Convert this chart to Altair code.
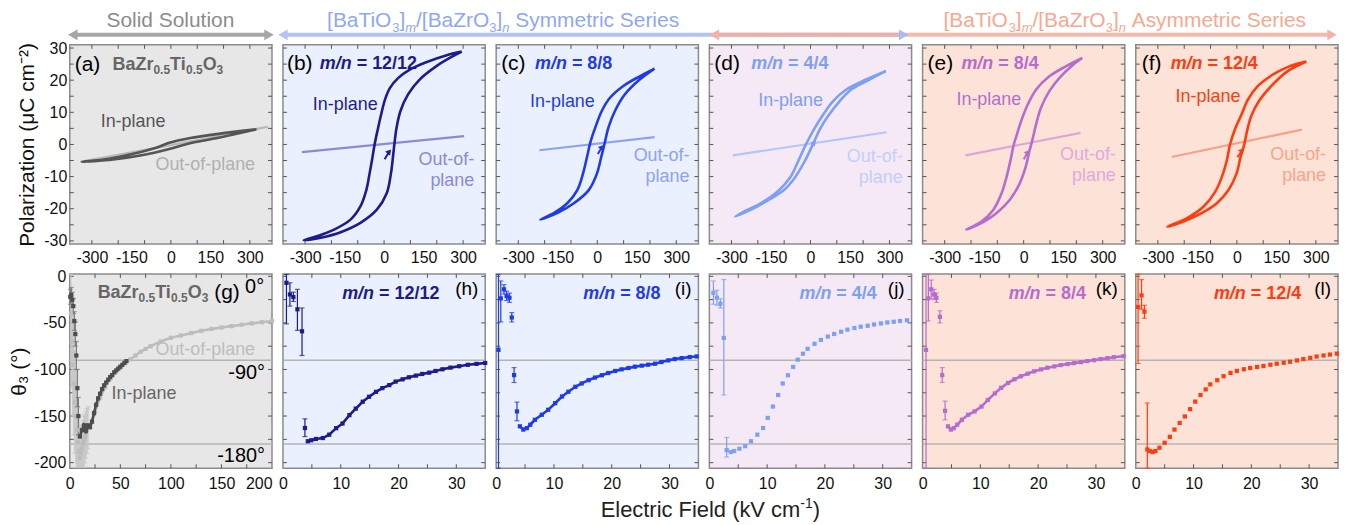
import altair as alt
import pandas as pd

FONT = "Liberation Sans"
W = 203
HT = 200
HB = 195

# ---------------- top row: hysteresis loops (E kV/cm, P uC/cm2) ----------------
# descending branch (+Emax -> -Emax) followed by ascending branch (-Emax -> +Emax)
a_loop_E = [325, 181, 69, -6, -56, -156, -256, -337, -219, -106, -6, 69, 181, 325]
a_loop_P = [4.7, 3.3, 1.9, 0.5, -1.0, -3.1, -4.7, -5.4, -4.7, -3.3, -1.4, 0.3, 2.1, 4.7]
a_oop_E = [-344, 0, 369]
a_oop_P = [-5.4, -0.2, 5.5]

b_loop_E = [295, 235, 160, 97.5, 54, 22.5, 4, -11, -25, -36, -46, -55, -67.5, -90, -127.5, -190, -252.5, -305,
            -240, -165, -90, -27.5, 10, 26, 35, 39, 47.5, 62.5, 91, 135, 197.5, 260, 295]
b_loop_P = [28.9, 27.7, 25.6, 23.3, 20.7, 17.6, 14.1, 9.4, 4.3, 0, -4.9, -9.0, -14.2, -19.3, -23.4, -26.5, -28.5, -29.8,
            -29.0, -27.3, -24.4, -20.3, -15.2, -9.0, -2.9, 0, 5.3, 10.5, 15.6, 20.2, 24.3, 27.4, 28.9]
b_oop_E = [-312, 304]
b_oop_P = [-2.4, 2.6]

c_loop_E = [217.5, 161, 99, 49, 17.5, -7.5, -26, -39, -54, -76, -114, -164, -216,
            -151, -89, -32.5, -1, 15, 27.5, 42.5, 67.5, 105, 161, 217.5]
c_loop_P = [23.6, 21.2, 18.2, 14.6, 10.5, 5.3, 0.7, -3.9, -9.0, -14.2, -18.3, -21.3, -23.4,
            -21.3, -18.3, -14.2, -9.0, -3.9, 0.2, 5.3, 10.5, 15.6, 20.2, 23.6]
c_oop_E = [-220, 217.5]
c_oop_P = [-1.8, 2.3]

d_loop_E = [286, 211, 136, 86, 49, 17.5, -17.5, -45, -76, -126, -189, -251, -286,
            -226, -157, -101, -57.5, -20, 9, 36, 67.5, 111, 155, 224, 286]
d_loop_P = [22.8, 20.2, 17.1, 13.5, 9.4, 5.3, 0, -4.9, -10.1, -14.7, -18.3, -20.8, -22.4,
            -20.3, -17.2, -14.2, -10.1, -4.9, 0, 4.8, 8.9, 13.5, 17.1, 20.2, 22.8]
d_oop_E = [-295, 289]
d_oop_P = [-3.4, 3.8]

e_loop_E = [222.5, 160, 97.5, 47.5, 16, -9, -25, -37.5, -50, -65, -84, -115, -159, -217.5,
            -159, -102.5, -52.5, -15, 7.5, 22.5, 32.5, 47.5, 66, 97.5, 141, 185, 222.5]
e_loop_P = [26.9, 24.3, 21.2, 17.1, 12.5, 7.4, 3.3, 0, -4.9, -10.1, -15.2, -20.3, -23.9, -26.5,
            -24.4, -21.3, -17.2, -12.1, -7.0, -1.8, 1.2, 6.4, 11.5, 16.6, 21.2, 24.6, 26.9]
e_oop_E = [-221, 216]
e_oop_P = [-3.4, 3.6]

f_loop_E = [264, 199, 136, 80, 43, 18, -7, -26, -38, -57, -82, -126, -189, -264,
            -201, -132, -76, -32, -1, 14, 28, 39, 55, 84, 131, 193, 264]
f_loop_P = [25.8, 24.3, 21.7, 18.2, 14.1, 9.4, 4.8, 0, -4.9, -10.1, -14.7, -19.3, -22.9, -25.6,
            -23.9, -21.3, -18.3, -14.2, -9.0, -3.9, 0, 4.3, 8.9, 13.5, 18.2, 22.8, 25.8]
f_oop_E = [-248, 247]
f_oop_P = [-3.9, 4.6]

# small poling arrows (start E, start P, end E, end P)
b_arrow = [2, -4.6, 20, -2.2]
c_arrow = [2, -3.0, 18, -0.8]
d_arrow = [0, -1.4, 14, 0.6]
e_arrow = [0, -4.6, 16, -2.4]
f_arrow = [2, -4.0, 20, -1.8]

# ---------------- bottom row: theta3 vs field ----------------
g_in_pts_E = [0.5, 1.5, 2.5, 3.5, 4.5, 5.5, 6.5, 7.5, 8.5]
g_in_pts_T = [-22, -20, -25, -32, -48, -62, -85, -120, -150]
g_in_err_lo = [-30, -28, -33, -40, -58, -75, -100, -140, -170]
g_in_err_hi = [-14, -12, -17, -24, -38, -49, -70, -100, -130]
g_in_E = [10, 12, 14, 16, 18, 20, 22, 24, 26, 28, 30, 32, 34, 36, 38, 40, 42, 44, 46, 48, 50, 52, 54, 56]
g_in_T = [-172, -165, -160, -166, -160, -162, -156, -147, -138, -131, -126, -121, -117, -114, -111, -108,
          -106, -103, -101, -99, -97, -95, -93, -91]
g_out_pts_E = [1, 2, 3, 4, 5, 6, 7, 8, 9, 10, 11, 12, 13, 14, 15, 16, 17, 18]
g_out_pts_T = [-40, -70, -95, -115, -135, -150, -165, -178, -188, -195, -190, -185, -180, -176, -172, -168, -165, -162]
g_out_err_lo = [-90, -120, -150, -170, -190, -200, -205, -205, -205, -205, -205, -205, -205, -205, -200, -195, -190, -185]
g_out_err_hi = [2, -20, -40, -60, -80, -100, -120, -140, -150, -160, -165, -160, -155, -150, -148, -145, -142, -140]
g_out_E = [20, 25, 30, 35, 40, 45, 50, 55, 60, 65, 70, 75, 80, 90, 100, 110, 120, 130, 140, 150, 160, 170, 180, 190, 200]
g_out_T = [-160, -145, -130, -119, -110, -103, -98, -93, -89, -85, -81, -78, -75, -70, -66, -63.5, -61, -58.5,
           -56.5, -55, -53.5, -52, -50.5, -49.3, -48]

h_pts_E = [0.6, 1.2, 1.8, 2.5, 3.3, 3.8]
h_pts_T = [-7, -19.5, -22.3, -35.4, -59, -162.8]
h_err_lo = [-51, -32, -27, -58, -85, -172]
h_err_hi = [2, -7, -17, -14, -34, -153]
h_E = [4.3, 4.9, 5.7, 6.9, 8.0, 9.2, 10.3, 11.5, 12.6, 13.8, 14.9, 16.1, 17.2, 18.4, 19.5, 20.7, 21.8, 23.0,
       24.1, 25.3, 26.4, 27.6, 29.0, 30.5, 32.0, 33.5, 35.0]
h_T = [-177, -176, -174.6, -173.6, -170, -163, -158, -149, -142, -134.6, -129.3, -124, -120, -116.8, -113, -110.6,
       -108.4, -106.6, -104.8, -103.4, -101.6, -99.8, -98, -96.5, -95, -94, -93]

i_pts_E = [0.4, 0.8, 1.35, 1.8, 2.3, 2.7, 3.1, 3.6]
i_pts_T = [-78.9, -23.7, -14, -21.2, -23, -44.2, -106, -145]
i_err_lo = [-206, -49, -19, -26, -28, -49, -114, -155]
i_err_hi = [2, -5, -9, -16, -18, -39, -98, -135]
i_E = [4.1, 4.7, 5.3, 5.9, 6.7, 7.9, 9.0, 10.2, 11.4, 12.5, 13.7, 14.8, 16.0, 17.1, 18.3, 19.4, 20.6, 21.7,
       22.9, 24.0, 25.2, 26.3, 27.5, 28.6, 29.8, 30.9, 32.1, 33.5, 34.7]
i_T = [-161, -164.5, -163, -159.3, -154, -148.6, -143.3, -136.2, -129, -123.9, -118.6, -115, -111.5, -108.7,
       -106.2, -103.8, -101.6, -99.9, -98.4, -97, -95.9, -94.9, -93.8, -92, -90.2, -88.8, -87.8, -86.7, -86]

j_pts_E = [0.7, 1.3, 1.9, 2.5]
j_pts_T = [-17.7, -23, -29.4, -66.2]
j_err_E = [0.7, 1.3, 1.9, 2.5, 3.0]
j_err_lo = [-30, -31, -34, -127.4, -194]
j_err_hi = [-5, -15, -24, -3.5, -173]
j_E = [3.0, 3.7, 4.3, 5.2, 6.2, 7.2, 8.3, 9.3, 10.1, 11.0, 11.9, 12.7, 13.6, 14.5, 15.3, 16.2, 17.0, 18.2,
       19.3, 20.5, 21.6, 22.8, 23.9, 25.1, 26.2, 27.4, 28.5, 29.7, 30.8, 31.9, 33.0, 34.2]
j_T = [-186.5, -188.6, -187.5, -185, -182.3, -177, -170, -162.8, -152, -139.8, -127.4, -115, -106.2, -97.3,
       -89.5, -83.1, -77.8, -72.5, -68.3, -64.7, -61.9, -59.5, -57.3, -55.5, -54.1, -53.1, -51.7, -50.6,
       -49.5, -48.8, -48, -47.2]

k_pts_E = [0.6, 1.0, 1.5, 2.0, 2.4, 3.0, 3.4, 3.9]
k_pts_T = [-79, -23.7, -14, -19.5, -23, -43.5, -106, -144.4]
k_err_lo = [-206, -48, -24, -25, -28, -50, -114, -154]
k_err_hi = [2, 2, -4, -14, -18, -37, -98, -134]
k_E = [4.4, 4.9, 5.4, 6.0, 6.8, 7.9, 9.0, 10.2, 11.3, 12.5, 13.6, 14.8, 15.9, 17.0, 18.2, 19.3, 20.5, 21.6,
       22.8, 23.9, 25.1, 26.2, 27.4, 28.5, 29.7, 30.8, 32.0, 33.1, 34.8]
k_T = [-161, -164.5, -163, -159.3, -154, -148.6, -145, -139.8, -132.7, -125.7, -119.7, -114.4, -110.5, -107.3,
       -104.5, -102, -99.9, -98.1, -96.7, -95.3, -94.2, -93.2, -92.1, -91, -90, -88.9, -87.9, -86.8, -85.7]

l_pts_E = [0.4, 1.0, 1.5]
l_pts_T = [-32.9, -20.5, -37.9]
l_err_E = [0.4, 1.0, 1.5, 2.0]
l_err_lo = [-93.6, -35.4, -45, -206]
l_err_hi = [2, -3.5, -31, -136]
l_E = [2.0, 2.4, 2.9, 3.4, 4.1, 5.0, 5.9, 6.7, 7.6, 8.5, 9.4, 10.3, 11.2, 12.1, 12.9, 14.1, 15.2, 16.4, 17.5,
       18.7, 19.8, 21.0, 22.1, 23.3, 24.4, 25.6, 26.7, 27.9, 29.0, 30.2, 31.3, 32.5, 33.6, 34.8]
l_T = [-185.8, -187.5, -188.6, -187.5, -184, -178.7, -172.3, -164.5, -157.4, -150.4, -142.6, -134.5, -127.4,
       -121.4, -116, -111.5, -107.2, -103.7, -101.6, -99.8, -98.4, -97.3, -96.3, -94.9, -93.8, -92.8, -91.7,
       -90.3, -88.9, -87.5, -86.1, -85, -84, -83]

# axes ticks / labels
TOP_XLAB = [-300, -150, 0, 150, 300]
TOP_XTICK = [-300, -200, -100, 0, 100, 200, 300]
TOP_YLAB = [-30, -20, -10, 0, 10, 20, 30]
TOP_YTICK = [-30, -25, -20, -15, -10, -5, 0, 5, 10, 15, 20, 25, 30]
BOT_YLAB = [0, -50, -100, -150, -200]
BOT_YTICK = [0, -25, -50, -75, -100, -125, -150, -175, -200]
G_XLAB = [0, 50, 100, 150, 200]
G_XTICK = [25, 50, 75, 100, 125, 150, 175]
F_XLAB = [0, 10, 20, 30]
F_XTICK = [5, 10, 15, 20, 25, 30]
REF_LINES = [-90, -180]

# colours
NAVY, BLUE, LBLUE, PURP, RED = "#1c1c8c", "#1f3be6", "#7da0f2", "#b56ccf", "#ff3c10"
DGRAY, LGRAY = "#555555", "#b8b8b8"
BG_G, BG_B, BG_L, BG_P = "#e7e7e7", "#eaf0fd", "#f5e9f6", "#fde3d7"

REG = {' ': 278, '(': 333, ')': 333, '[': 278, ']': 278, '/': 278, '.': 278, '-': 333, '=': 584,
       '°': 400, 'A': 667, 'B': 667, 'C': 722, 'E': 667, 'F': 611, 'O': 778, 'S': 667, 'T': 611, 'V': 667,
       'Z': 611, 'a': 556, 'b': 556, 'c': 500, 'd': 556, 'e': 556, 'f': 278, 'g': 556, 'h': 556, 'i': 222,
       'j': 222, 'k': 500, 'l': 222, 'm': 833, 'n': 556, 'o': 556, 'p': 556, 'r': 333, 's': 500, 't': 278,
       'u': 556, 'y': 500}
BOLD = {' ': 278, '(': 333, ')': 333, '/': 278, '.': 278, '=': 584, 'B': 722, 'O': 778, 'T': 611,
        'Z': 611, 'a': 556, 'i': 278, 'm': 889, 'n': 611, 'r': 389}

LABEL_EXPR = "'' + datum.value"


def tw(s, size, weight):
    table = BOLD if weight == "bold" else REG
    return sum(table.get(ch, 556) for ch in s) * size / 1000.0


def one():
    return alt.Data(values=[{}])


def txt(s, x, y, size=18, color="black", align="left", baseline="alphabetic", weight="normal", style="normal"):
    return alt.Chart(one()).mark_text(text=s, font=FONT, fontSize=size, color=color, align=align,
                                      baseline=baseline, fontWeight=weight, fontStyle=style).encode(
        x=alt.value(x), y=alt.value(y))


def rich(segs, x, y, align="left", color="black"):
    widths = [tw(t, s, w) for t, s, w, st, dy in segs]
    total = sum(widths)
    if align == "right":
        x0 = x - total
    elif align == "center":
        x0 = x - total / 2
    else:
        x0 = x
    out = []
    for (t, s, w, st, dy), wd in zip(segs, widths):
        core = t.lstrip(" ")
        lead = tw(t[:len(t) - len(core)], s, w)
        out.append(txt(core, x0 + lead, y + dy, s, color, "left", "alphabetic", w, st))
        x0 += wd
    return out


def formula():
    return [("BaZr", 18, "bold", "normal", 0), ("0.5", 12, "bold", "normal", 4), ("Ti", 18, "bold", "normal", 0),
            ("0.5", 12, "bold", "normal", 4), ("O", 18, "bold", "normal", 0), ("3", 12, "bold", "normal", 4)]


def mn(ratio):
    return [("m/n", 18, "bold", "italic", 0), (" = " + ratio, 18, "bold", "normal", 0)]


def header(word):
    return [("[BaTiO", 21, "normal", "normal", 0), ("3", 13, "normal", "normal", 5), ("]", 21, "normal", "normal", 0),
            ("m", 13, "normal", "italic", 5), ("/[BaZrO", 21, "normal", "normal", 0),
            ("3", 13, "normal", "normal", 5), ("]", 21, "normal", "normal", 0), ("n", 13, "normal", "italic", 5),
            (" " + word + " Series", 21, "normal", "normal", 0)]


def hrule(x1, x2, y, color, width=4, opacity=1.0):
    return alt.Chart(one()).mark_rule(color=color, strokeWidth=width, opacity=opacity).encode(
        x=alt.value(x1), x2=alt.value(x2), y=alt.value(y))


def head(x, y, color, shape):
    return alt.Chart(one()).mark_point(shape=shape, filled=True, size=120, color=color, opacity=1,
                                       strokeWidth=0).encode(x=alt.value(x), y=alt.value(y))


def tick_layers(X, Y, xf, yf, xt, yt, w, h, L=4):
    dx = pd.DataFrame({xf: xt})
    dy = pd.DataFrame({yf: yt})
    c = "#555555"
    return [
        alt.Chart(dx).mark_rule(color=c, strokeWidth=1).encode(x=X, y=alt.value(0), y2=alt.value(L)),
        alt.Chart(dx).mark_rule(color=c, strokeWidth=1).encode(x=X, y=alt.value(h - L), y2=alt.value(h)),
        alt.Chart(dy).mark_rule(color=c, strokeWidth=1).encode(y=Y, x=alt.value(0), x2=alt.value(L)),
        alt.Chart(dy).mark_rule(color=c, strokeWidth=1).encode(y=Y, x=alt.value(w - L), x2=alt.value(w)),
    ]


def view(bg):
    return alt.ViewBackground(fill=bg, stroke="#8c8c8c", strokeWidth=1.5)


def top_panel(E, P, oE, oP, arrow, col, ocol, bg, extra, first=False):
    xs = alt.Scale(domain=[-384, 384], nice=False, zero=False)
    ys = alt.Scale(domain=[-31, 31], nice=False, zero=False)
    xax = alt.Axis(values=TOP_XLAB, labelPadding=5, labelFlush=False, title=None, labelExpr=LABEL_EXPR)
    if first:
        yax = alt.Axis(values=TOP_YLAB, labelPadding=3, title="Polarization (μC cm⁻²)", titleFontSize=21,
                       titlePadding=6, labelExpr=LABEL_EXPR)
    else:
        yax = None
    X = alt.X("E:Q", scale=xs, axis=xax)
    Y = alt.Y("P:Q", scale=ys, axis=yax)
    loop = pd.DataFrame({"E": E, "P": P, "i": list(range(len(E)))})
    oop = pd.DataFrame({"E": oE, "P": oP})
    layers = tick_layers(X, Y, "E", "P", TOP_XTICK, TOP_YTICK, W, HT)
    layers.append(alt.Chart(oop).mark_line(color=ocol, strokeWidth=2.2).encode(x=X, y=Y))
    layers.append(alt.Chart(loop).mark_line(color=col, strokeWidth=2.6, interpolate="catmull-rom").encode(
        x=X, y=Y, order="i:Q"))
    if arrow:
        seg = pd.DataFrame({"E": [arrow[0], arrow[2]], "P": [arrow[1], arrow[3]]})
        layers.append(alt.Chart(seg).mark_line(color=col, strokeWidth=2).encode(x=X, y=Y))
        layers.append(alt.Chart(pd.DataFrame({"E": [arrow[2]], "P": [arrow[3]]})).mark_point(
            shape="triangle-up", filled=True, size=40, angle=40, color=col, opacity=1).encode(x=X, y=Y))
    layers += extra
    return alt.layer(*layers).properties(width=W, height=HT, view=view(bg))


def bot_panel(xmax, xlab, xtick, series, errs, pts, bg, extra, first=False):
    xs = alt.Scale(domain=[0, xmax], nice=False, zero=False)
    ys = alt.Scale(domain=[-206, 2.5], nice=False, zero=False)
    if first:
        xax = alt.Axis(values=xlab, labelPadding=7, labelFlush=False, title=None, labelExpr=LABEL_EXPR,
                       labelAlign=alt.condition("datum.value == 200", alt.value("right"), alt.value("center")))
        yax = alt.Axis(values=BOT_YLAB, labelPadding=4, title="θ₃ (°)", titleFontSize=21, titlePadding=4,
                       labelExpr=LABEL_EXPR)
    else:
        xax = alt.Axis(values=xlab, labelPadding=7, labelFlush=False, title=None, labelExpr=LABEL_EXPR)
        yax = None
    X = alt.X("E:Q", scale=xs, axis=xax)
    Y = alt.Y("T:Q", scale=ys, axis=yax)
    layers = [alt.Chart(pd.DataFrame({"T": REF_LINES})).mark_rule(color="#b4b4b4", strokeWidth=1.5).encode(y=Y)]
    layers += tick_layers(X, Y, "E", "T", xtick, BOT_YTICK, W, HB)
    for eE, lo, hi, c in errs:
        layers.append(alt.Chart(pd.DataFrame({"E": eE, "T": lo, "T2": hi})).mark_rule(
            color=c, strokeWidth=1.2).encode(x=X, y=Y, y2="T2:Q"))
        layers.append(alt.Chart(pd.DataFrame({"E": eE + eE, "T": lo + hi})).mark_tick(
            orient="horizontal", size=5, thickness=1.2, color=c).encode(x=X, y=Y))
    for sE, sT, c in pts:
        layers.append(alt.Chart(pd.DataFrame({"E": sE, "T": sT})).mark_square(
            size=18, color=c, opacity=1).encode(x=X, y=Y))
    for sE, sT, c, line in series:
        d = pd.DataFrame({"E": sE, "T": sT})
        if line:
            layers.append(alt.Chart(d).mark_line(color=c, strokeWidth=2.6).encode(x=X, y=Y))
        layers.append(alt.Chart(d).mark_square(size=18, color=c, opacity=1).encode(x=X, y=Y))
    layers += extra
    return alt.layer(*layers).properties(width=W, height=HB, view=view(bg))


def labels_top(letter, lx, ratio, mx, col, inx, iny, ocol, ox, oy):
    out = [txt("(" + letter + ")", lx, 25, 21)]
    out += rich(mn(ratio), mx, 24, "left", col)
    out.append(txt("In-plane", inx, iny, 18, col, "left", "middle"))
    out.append(txt("Out-of-", ox, oy, 18, ocol, "right", "middle"))
    out.append(txt("plane", ox, oy + 21, 18, ocol, "right", "middle"))
    return out


def labels_bot(letter, ratio, mright, col):
    out = rich(mn(ratio), mright, 25, "right", col)
    out.append(txt("(" + letter + ")", 196, 21, 19, "black", "right"))
    return out


# ---- panel (a) with header ----
ex_a = [txt("(a)", 5, 26, 21)]
ex_a += rich(formula(), 43, 25, "left", "#666666")
ex_a += [txt("In-plane", 31, 77, 18, DGRAY, "left", "middle"),
         txt("Out-of-plane", 86, 121, 18, "#b0b0b0", "left", "middle"),
         txt("Solid Solution", 101, -18, 21, "#8c8c8c", "center"),
         hrule(4, 199, -10, "#a6a6a6"), head(3, -10, "#a6a6a6", "triangle-left"),
         head(200, -10, "#a6a6a6", "triangle-right")]
pa = top_panel(a_loop_E, a_loop_P, a_oop_E, a_oop_P, None, DGRAY, LGRAY, BG_G, ex_a, first=True)

ex_b = labels_top("b", 4, "12/12", 37, NAVY, 30, 60, "#8a8ad6", 192, 116)
ex_b += [hrule(0, 620, -10, "#b3c2f7"), head(0, -10, "#b3c2f7", "triangle-left")]
ex_b += rich(header("Symmetric"), 221, -18, "center", "#8fa7f4")
pb = top_panel(b_loop_E, b_loop_P, b_oop_E, b_oop_P, b_arrow, NAVY, "#8a8ad6", BG_B, ex_b)

ex_c = labels_top("c", 5, "8/8", 39, BLUE, 34, 57, "#8ea2f2", 194, 112)
pc = top_panel(c_loop_E, c_loop_P, c_oop_E, c_oop_P, c_arrow, BLUE, "#8ea2f2", BG_B, ex_c)

ex_d = labels_top("d", 5, "4/4", 42, LBLUE, 49, 56, "#c2cff9", 194, 113)
pd_ = top_panel(d_loop_E, d_loop_P, d_oop_E, d_oop_P, d_arrow, LBLUE, "#b4c6f8", BG_L, ex_d)

ex_e = labels_top("e", 5, "8/4", 39, PURP, 34, 55, "#e0a8e0", 194, 111)
ex_e += [hrule(-209, 411, -10, "#f4ab9c", 4, 0.85), head(-209, -10, "#f6b3a3", "triangle-left"),
         head(411, -10, "#f6b3a3", "triangle-right"), head(-19, -10, "#a9bbf6", "triangle-right")]
ex_e += rich(header("Asymmetric"), 203, -18, "center", "#f7a88f")
pe = top_panel(e_loop_E, e_loop_P, e_oop_E, e_oop_P, e_arrow, PURP, "#dca6dc", BG_P, ex_e)

ex_f = labels_top("f", 6, "12/4", 35, RED, 40, 52, "#f9a48c", 191, 111)
pf = top_panel(f_loop_E, f_loop_P, f_oop_E, f_oop_P, f_arrow, RED, "#f8a088", BG_P, ex_f)

# ---- bottom panels ----
ex_g = rich(formula(), 28, 24, "left", "#666666")
ex_g += [txt("(g)", 145, 25, 21), txt("0°", 176, 19, 20),
         txt("Out-of-plane", 86, 76, 18, "#bdbdbd", "left", "middle"),
         txt("-90°", 196, 99, 20, "black", "right", "middle"),
         txt("In-plane", 42, 121, 18, "#666666", "left", "middle"),
         txt("-180°", 196, 183, 20, "black", "right", "middle")]
pg = bot_panel(200, G_XLAB, G_XTICK,
               [(g_out_E, g_out_T, "#bdbdbd", True), (g_in_E, g_in_T, "#4d4d4d", True)],
               [(g_out_pts_E, g_out_err_lo, g_out_err_hi, "#c4c4c4"),
                (g_in_pts_E, g_in_err_lo, g_in_err_hi, "#777777")],
               [(g_out_pts_E, g_out_pts_T, "#bdbdbd"), (g_in_pts_E, g_in_pts_T, "#4d4d4d")],
               BG_G, ex_g, first=True)

ph = bot_panel(35, F_XLAB, F_XTICK, [(h_E, h_T, NAVY, True)], [(h_pts_E, h_err_lo, h_err_hi, NAVY)],
               [(h_pts_E, h_pts_T, NAVY)], BG_B, labels_bot("h", "12/12", 157, NAVY))
pi = bot_panel(35, F_XLAB, F_XTICK, [(i_E, i_T, BLUE, True)], [(i_pts_E, i_err_lo, i_err_hi, BLUE)],
               [(i_pts_E, i_pts_T, BLUE)], BG_B,
               labels_bot("i", "8/8", 165, BLUE) +
               rich([("Electric Field (kV cm", 22, "normal", "normal", 0), ("-1", 14, "normal", "normal", -9),
                     (")", 22, "normal", "normal", 0)], 215, 244, "center", "#222222"))
pj = bot_panel(35, F_XLAB, F_XTICK, [(j_E, j_T, LBLUE, False)], [(j_err_E, j_err_lo, j_err_hi, LBLUE)],
               [(j_pts_E, j_pts_T, LBLUE)], BG_L, labels_bot("j", "4/4", 168, LBLUE))
pk = bot_panel(35, F_XLAB, F_XTICK, [(k_E, k_T, PURP, True)], [(k_pts_E, k_err_lo, k_err_hi, PURP)],
               [(k_pts_E, k_pts_T, PURP)], BG_P, labels_bot("k", "8/4", 164, PURP))
pl = bot_panel(35, F_XLAB, F_XTICK, [(l_E, l_T, RED, False)], [(l_err_E, l_err_lo, l_err_hi, RED)],
               [(l_pts_E, l_pts_T, RED)], BG_P, labels_bot("l", "12/4", 166, RED))

chart = alt.concat(pa, pb, pc, pd_, pe, pf, pg, ph, pi, pj, pk, pl, columns=6,
                   spacing={"row": 30, "column": 11}, bounds="flush").properties(
    padding=0).configure(font=FONT).configure_axis(
    grid=False, ticks=False, domain=False, labelFont=FONT, titleFont=FONT, labelFontSize=16,
    labelColor="#111111", titleColor="#111111", titleFontWeight="normal")

chart.save("out.html", embed_options={"renderer": "svg", "actions": False})
